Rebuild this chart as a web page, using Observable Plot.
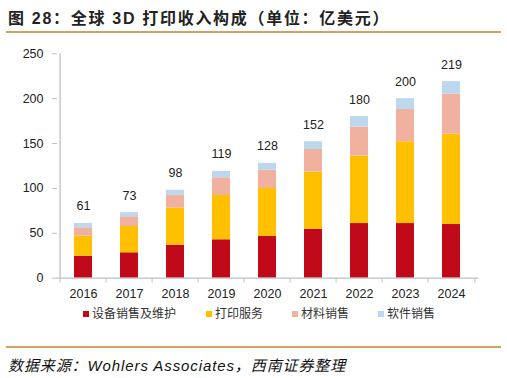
<!DOCTYPE html>
<html>
<head>
<meta charset="utf-8">
<script src="https://cdn.jsdelivr.net/npm/d3@7"></script>
<script src="https://cdn.jsdelivr.net/npm/@observablehq/plot@0.6"></script>
<style>
  html, body { margin: 0; padding: 0; background: #fff; }
  #wrap { position: relative; width: 507px; height: 378px; overflow: hidden; font-family: "Liberation Sans", Arial, "Noto Sans CJK SC", sans-serif; color: #222; }
  #title { position: absolute; left: 8px; top: 5px; font-size: 16px; font-weight: bold; letter-spacing: 1.7px; white-space: nowrap; font-family: "Liberation Sans", Arial, "Noto Sans CJK SC", sans-serif; }
  .rule { position: absolute; left: 6px; width: 495px; height: 2px; background: #D2A262; }
  #chart { position: absolute; left: 0; top: 36px; }
  #legend { position: absolute; left: 0; top: 304px; width: 507px; height: 18px; }
  .li { position: absolute; top: 0; font-size: 12px; line-height: 18px; color: #333; white-space: nowrap; font-family: "Noto Sans CJK SC", sans-serif; letter-spacing: 0px; }
  .sw { display: inline-block; width: 6px; height: 6px; margin-right: 3px; vertical-align: 1px; }
  #source { position: absolute; left: 8px; top: 354px; font-size: 15px; font-style: italic; white-space: nowrap; color: #111; font-family: "Liberation Sans", Arial, "Noto Sans CJK SC", sans-serif; letter-spacing: 0.9px; }
</style>
</head>
<body>
<div id="wrap">
  <div id="title">图 28：全球 3D 打印收入构成（单位：亿美元）</div>
  <div class="rule" style="top:31px"></div>
  <div id="chart"></div>
  <div id="legend"></div>
  <div class="rule" style="top:346px"></div>
  <div id="source">数据来源：Wohlers Associates，西南证券整理</div>
</div>
<script>
const years = ["2016","2017","2018","2019","2020","2021","2022","2023","2024"];
const seriesNames = ["设备销售及维护","打印服务","材料销售","软件销售"];
const seriesColors = ["#C00A1A","#FFC000","#F0B29E","#BDD7EE"];
const equipment = [24.5, 28.3, 36.8, 42.8, 46.5, 54.6, 60.9, 60.9, 59.8];
const printing  = [22.3, 29.3, 41.2, 49.3, 53.4, 63.5, 75.0, 91.1, 100.6];
const materials = [9.3, 10.8, 14.1, 19.8, 20.4, 25.3, 32.3, 35.9, 44.6];
const software  = [4.9, 4.6, 5.9, 7.1, 7.7, 8.6, 11.8, 12.1, 14.0];
const totals    = [61, 73, 98, 119, 128, 152, 180, 200, 219];
const yTicks    = [0, 50, 100, 150, 200, 250];

const seriesValues = [equipment, printing, materials, software];
const rows = [];
seriesNames.forEach((name, si) => {
  years.forEach((y, i) => rows.push({year: y, series: name, value: seriesValues[si][i]}));
});
const totalRows = years.map((y, i) => ({year: y, total: totals[i]}));

const W = 507, H = 268, mL = 57, mR = 28.7, mT = 17.3, mB = 26.3;
const step = (W - mL - mR) / years.length;
const axisGray = "#BFBFBF";

const plot = Plot.plot({
  width: W, height: H,
  marginLeft: mL, marginRight: mR, marginTop: mT, marginBottom: mB,
  style: {fontFamily: "'Liberation Sans', Arial, sans-serif", fontSize: "12.5px", color: "#222", background: "transparent"},
  x: {domain: years, paddingInner: 0.6, paddingOuter: 0.3, label: null, axis: null},
  y: {domain: [0, 250], label: null, axis: null},
  color: {domain: seriesNames, range: seriesColors},
  marks: [
    Plot.barY(rows, {x: "year", y: "value", fill: "series", order: seriesNames}),
    Plot.ruleY([0], {stroke: axisGray, strokeWidth: 1.3}),
    Plot.ruleX([years[0]], {y1: 0, y2: 250, dx: -step / 2, stroke: axisGray, strokeWidth: 1.3}),
    Plot.axisY({ticks: yTicks, tickSize: 5, tickPadding: 9, stroke: axisGray, fill: "#222", label: null, fontSize: "12.5px"}),
    Plot.axisX({ticks: years, tickSize: 5, dx: -step / 2, stroke: axisGray, tickFormat: () => "", label: null}),
    Plot.axisX({ticks: [years[years.length - 1]], tickSize: 5, dx: step / 2, stroke: axisGray, tickFormat: () => "", label: null}),
    Plot.axisX({ticks: years, tickSize: 0, tickPadding: 11, fill: "#222", label: null, fontSize: "12.5px"}),
    Plot.text(totalRows, {x: "year", y: "total", text: d => String(d.total), dy: -17, fill: "#222", fontSize: 12.5})
  ]
});
document.getElementById("chart").appendChild(plot);

const legendLefts = [83, 206, 292, 378];
const legend = document.getElementById("legend");
seriesNames.forEach((name, i) => {
  const d = document.createElement("div");
  d.className = "li";
  d.style.left = legendLefts[i] + "px";
  d.innerHTML = `<span class="sw" style="background:${seriesColors[i]}"></span>${name}`;
  legend.appendChild(d);
});
</script>
</body>
</html>
